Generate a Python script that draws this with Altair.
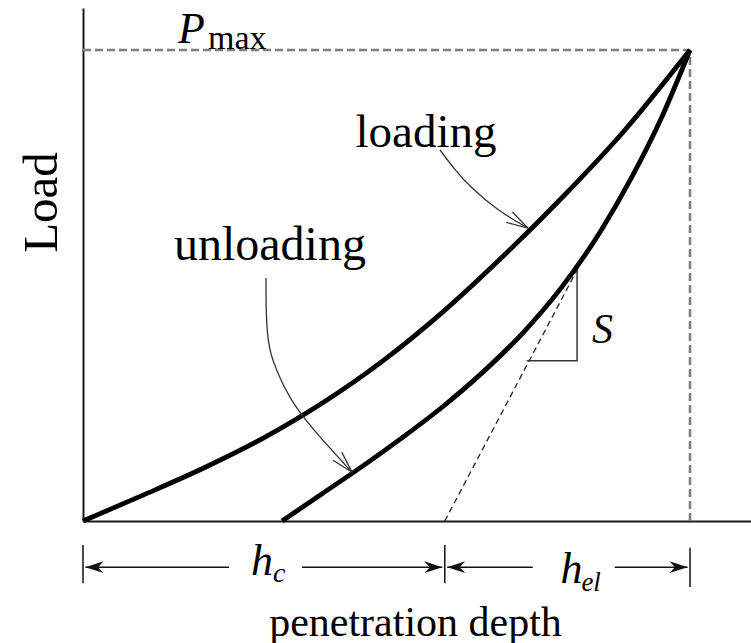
import math
import altair as alt
import pandas as pd

# Depth and load are normalised: h / h_max and P / P_max.
loading_h = [0.0, 0.099, 0.198, 0.297, 0.395, 0.494, 0.593, 0.692, 0.791, 0.890, 1.0]
loading_P = [0.0, 0.055, 0.112, 0.176, 0.251, 0.340, 0.444, 0.562, 0.689, 0.826, 1.0]

unloading_h = [0.328, 0.394, 0.460, 0.526, 0.591, 0.657, 0.723, 0.789, 0.855, 0.904, 0.954, 1.0]
unloading_P = [0.0, 0.058, 0.116, 0.177, 0.241, 0.314, 0.397, 0.497, 0.620, 0.730, 0.859, 1.0]

h_max = 1.0
P_max = 1.0
h_c = 0.596                      # intercept of the unloading tangent
tangent_end = (0.8155, 0.537)    # where the tangent meets the unloading curve
slope_leg_h = [0.731, 0.814, 0.814]
slope_leg_P = [0.340, 0.340, 0.537]

# callout arrows for the curve names
loading_callout_h = [0.588, 0.613, 0.638, 0.682, 0.733]
loading_callout_P = [0.788, 0.745, 0.709, 0.660, 0.622]
unloading_callout_h = [0.3015, 0.3015, 0.3064, 0.3196, 0.346, 0.390, 0.443]
unloading_callout_P = [0.516, 0.427, 0.363, 0.316, 0.246, 0.178, 0.104]

# dimension lines under the depth axis
dim_P = -0.098
tick_lo = [-0.051, -0.051, -0.057]
tick_hi = [-0.132, -0.132, -0.140]

H_DOMAIN = [0, 1.1005]
P_DOMAIN = [0, 1.0892]
W, H = 668, 513
PX_H = W / (H_DOMAIN[1] - H_DOMAIN[0])
PX_P = H / (P_DOMAIN[1] - P_DOMAIN[0])

SERIF = "Liberation Serif"

x_axis = alt.Axis(
    title="penetration depth", domain=True, domainColor="#1a1a1a", domainWidth=2,
    ticks=False, labels=False, grid=False,
    titleFont=SERIF, titleFontSize=42, titleFontWeight="normal", titleColor="black",
    titleX=332, titleY=114, titleAlign="center", titleBaseline="alphabetic",
)
y_axis = alt.Axis(
    title="Load", domain=True, domainColor="#1a1a1a", domainWidth=2,
    ticks=False, labels=False, grid=False,
    titleFont=SERIF, titleFontSize=49, titleFontWeight="normal", titleColor="black",
    titleX=-27, titleY=194, titleAngle=270, titleAlign="center", titleBaseline="alphabetic",
)
xs = alt.Scale(domain=H_DOMAIN, nice=False, zero=False)
ys = alt.Scale(domain=P_DOMAIN, nice=False, zero=False)


def X(field="h"):
    return alt.X(f"{field}:Q", scale=xs, axis=x_axis)


def Y(field="P"):
    return alt.Y(f"{field}:Q", scale=ys, axis=y_axis)


def path_df(hs, ps, name):
    return pd.DataFrame({"h": hs, "P": ps, "i": range(len(hs)), "curve": name})


def screen_angle(hs, ps):
    dx = (hs[-1] - hs[-2]) * PX_H
    dy = -(ps[-1] - ps[-2]) * PX_P
    return math.degrees(math.atan2(dy, dx)) % 360


# --- reference lines at P_max and h_max
pmax_lines = pd.DataFrame({
    "h": [0.0, h_max], "h2": [h_max, h_max],
    "P": [P_max, 0.0], "P2": [P_max, P_max],
})
pmax_layer = alt.Chart(pmax_lines).mark_rule(
    color="#7f7f7f", strokeWidth=2.5, strokeDash=[8, 4]
).encode(x=X(), x2="h2:Q", y=Y(), y2="P2:Q")

# --- tangent to the unloading curve
tangent = pd.DataFrame({"h": [h_c], "h2": [tangent_end[0]], "P": [0.0], "P2": [tangent_end[1]]})
tangent_layer = alt.Chart(tangent).mark_rule(
    color="#222222", strokeWidth=1.3, strokeDash=[6, 4]
).encode(x=X(), x2="h2:Q", y=Y(), y2="P2:Q")

# --- slope triangle S
slope_layer = alt.Chart(path_df(slope_leg_h, slope_leg_P, "S")).mark_line(
    color="#333333", strokeWidth=1.5
).encode(x=X(), y=Y(), order="i:O")

# --- loading and unloading curves
curves = pd.concat([
    path_df(loading_h, loading_P, "loading"),
    path_df(unloading_h, unloading_P, "unloading"),
])
curve_layer = alt.Chart(curves).mark_line(
    color="black", strokeWidth=4.8, interpolate="monotone"
).encode(x=X(), y=Y(), detail="curve:N", order="i:O")

# --- callout arrows
callouts = pd.concat([
    path_df(loading_callout_h, loading_callout_P, "loading"),
    path_df(unloading_callout_h, unloading_callout_P, "unloading"),
])
callout_layer = alt.Chart(callouts).mark_line(
    color="#333333", strokeWidth=1.3, interpolate="basis"
).encode(x=X(), y=Y(), detail="curve:N", order="i:O")

OPEN_HEAD = "M -1 -0.28 L 0 0 L -1 0.28"
head_layers = []
for hs, ps in [(loading_callout_h, loading_callout_P), (unloading_callout_h, unloading_callout_P)]:
    tip = pd.DataFrame({"h": [hs[-1]], "P": [ps[-1]]})
    head_layers.append(
        alt.Chart(tip).mark_point(
            shape=OPEN_HEAD, filled=False, size=1850, strokeWidth=1.3,
            color="#333333", opacity=1, angle=screen_angle(hs, ps),
        ).encode(x=X(), y=Y())
    )

# --- dimension lines for h_c and h_el
ticks = pd.DataFrame({"h": [0.0, h_c, h_max], "P": tick_lo, "P2": tick_hi})
tick_layer = alt.Chart(ticks).mark_rule(color="#111111", strokeWidth=1.5).encode(
    x=X(), y=Y(), y2="P2:Q"
)

gap = 0.004
dim_segments = pd.DataFrame({
    "h": [0.0 + gap, 0.3608, h_c + gap, 0.876],
    "h2": [0.2405, h_c - gap, 0.741, h_max - gap],
    "P": [dim_P] * 4,
})
dim_layer = alt.Chart(dim_segments).mark_rule(color="#111111", strokeWidth=1.5).encode(
    x=X(), x2="h2:Q", y=Y()
)

SOLID_HEAD = "M 0 0 L -1 -0.33 L -0.7 0 L -1 0.33 Z"
left_tips = pd.DataFrame({"h": [0.0 + gap, h_c + gap], "P": [dim_P] * 2})
right_tips = pd.DataFrame({"h": [h_c - gap, h_max - gap], "P": [dim_P] * 2})
left_head_layer = alt.Chart(left_tips).mark_point(
    shape=SOLID_HEAD, filled=True, size=1300, color="#111111", opacity=1, angle=180
).encode(x=X(), y=Y())
right_head_layer = alt.Chart(right_tips).mark_point(
    shape=SOLID_HEAD, filled=True, size=1300, color="#111111", opacity=1, angle=0
).encode(x=X(), y=Y())


# --- text labels
def label(text, h, P, size, style="normal", align="left", dx=0, dy=0):
    return alt.Chart(pd.DataFrame({"h": [h], "P": [P]})).mark_text(
        text=text, font=SERIF, fontSize=size, fontStyle=style, color="black",
        align=align, baseline="alphabetic", dx=dx, dy=dy,
    ).encode(x=X(), y=Y())


labels = [
    label("loading", 0.565, 0.794, 47, align="center"),
    label("unloading", 0.308, 0.554, 48, align="center"),
    label("P", 0.1565, P_max, 44, style="italic", dy=-7),
    label("max", 0.206, P_max, 34, dy=-1),
    label("S", 0.8386, 0.378, 42, style="italic"),
    label("h", h_c / 2, dim_P, 44, style="italic", align="right", dx=9, dy=8),
    label("c", h_c / 2, dim_P, 28, style="italic", align="left", dx=9, dy=15),
    label("h", (h_c + h_max) / 2, dim_P, 44, style="italic", align="right", dx=15, dy=16),
    label("el", (h_c + h_max) / 2, dim_P, 27, style="italic", align="left", dx=14, dy=24),
]

chart = alt.layer(
    pmax_layer, tangent_layer, slope_layer, curve_layer, callout_layer,
    *head_layers, tick_layer, dim_layer, left_head_layer, right_head_layer, *labels,
).properties(
    width=W, height=H,
    padding={"left": 83, "top": 8, "right": 0, "bottom": 122},
    autosize=alt.AutoSizeParams(type="none"),
    background="white",
).configure_view(stroke=None)

chart.save("out.html", embed_options={"renderer": "svg", "actions": False})
